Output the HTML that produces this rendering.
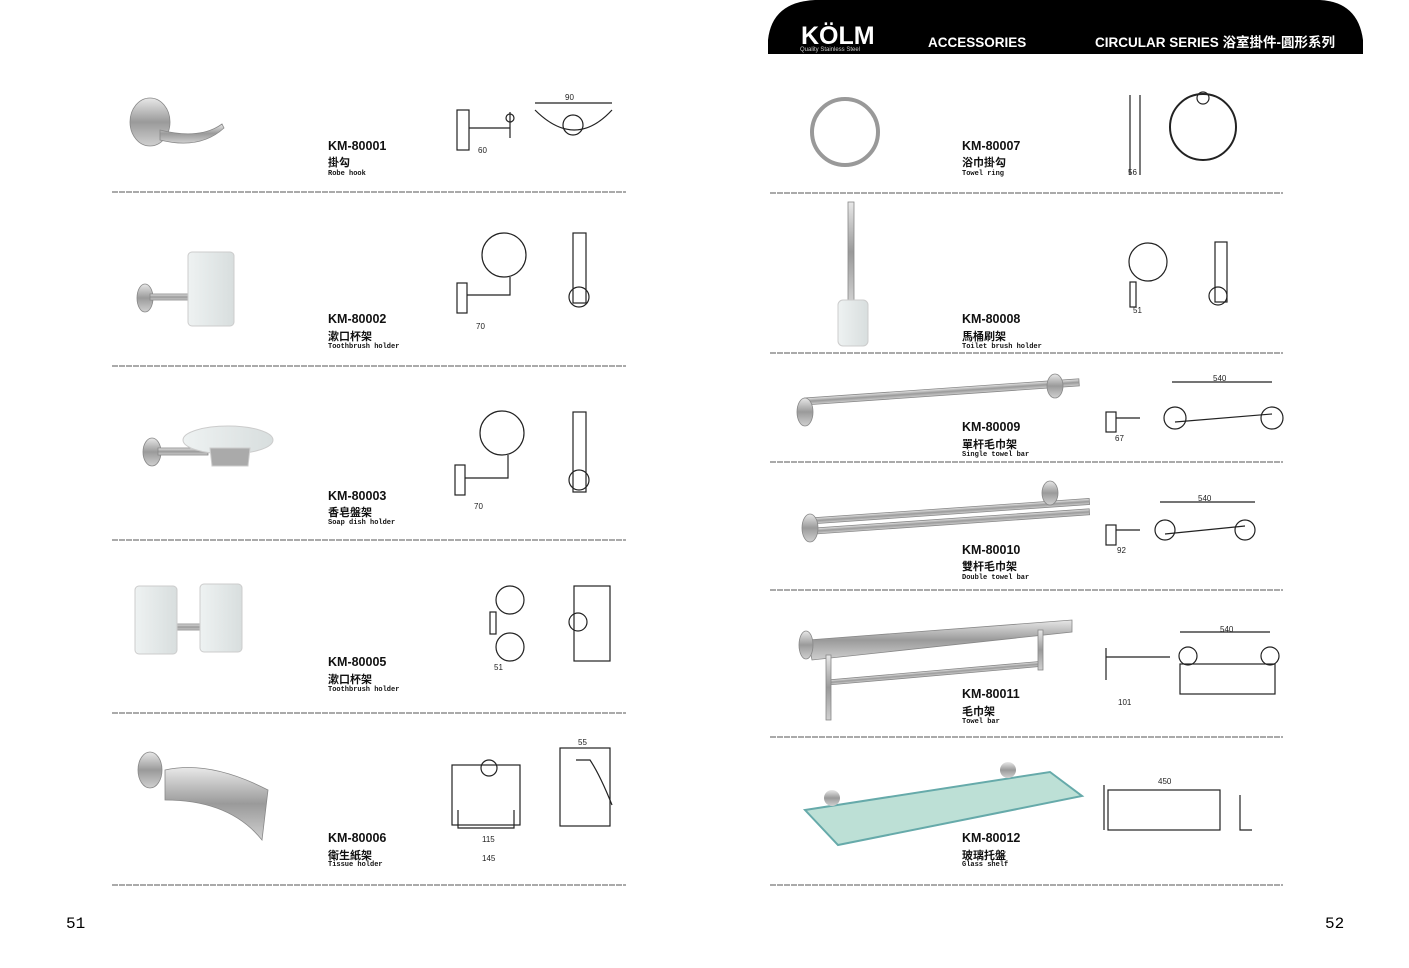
<!DOCTYPE html>
<html><head><meta charset="utf-8"><style>
body{margin:0;background:#fff;width:1409px;height:963px;overflow:hidden}
</style></head><body>
<svg width="1409" height="963" viewBox="0 0 1409 963" xmlns="http://www.w3.org/2000/svg" font-family="Liberation Sans, Noto Sans CJK SC, sans-serif">
<defs>
<linearGradient id="st" x1="0" y1="0" x2="0" y2="1"><stop offset="0" stop-color="#e8e8e8"/><stop offset=".5" stop-color="#9a9a9a"/><stop offset="1" stop-color="#d0d0d0"/></linearGradient>
<linearGradient id="gl" x1="0" y1="0" x2="1" y2="0"><stop offset="0" stop-color="#eef2f2"/><stop offset="1" stop-color="#d8dede"/></linearGradient>
</defs>
<!-- header -->
<path d="M768 54 L768 40 Q772 2 815 0 L1320 0 Q1358 2 1363 40 L1363 54 Z" fill="#000"/>
<text x="801" y="44" fill="#fff" font-size="25" font-weight="bold">KÖLM</text>
<text x="800" y="51" fill="#ccc" font-size="6">Quality Stainless Steel</text>
<text x="928" y="47" fill="#fff" font-size="13.5" font-weight="bold">ACCESSORIES</text>
<text x="1095" y="47" fill="#fff" font-size="13.5" font-weight="bold">CIRCULAR SERIES 浴室掛件-圓形系列</text>

<g stroke="#555" stroke-width="1" stroke-dasharray="6 1">
<line x1="112" y1="192" x2="626" y2="192"/><line x1="112" y1="366" x2="626" y2="366"/><line x1="112" y1="540" x2="626" y2="540"/><line x1="112" y1="713" x2="626" y2="713"/><line x1="112" y1="885" x2="626" y2="885"/>
<line x1="770" y1="193" x2="1283" y2="193"/><line x1="770" y1="353" x2="1283" y2="353"/><line x1="770" y1="462" x2="1283" y2="462"/><line x1="770" y1="590" x2="1283" y2="590"/><line x1="770" y1="737" x2="1283" y2="737"/><line x1="770" y1="885" x2="1283" y2="885"/>
</g>

<g font-weight="bold" fill="#111">
<g font-size="12.5">
<text x="328" y="150">KM-80001</text><text x="328" y="323">KM-80002</text><text x="328" y="500">KM-80003</text><text x="328" y="666">KM-80005</text><text x="328" y="842">KM-80006</text>
<text x="962" y="150">KM-80007</text><text x="962" y="323">KM-80008</text><text x="962" y="431">KM-80009</text><text x="962" y="554">KM-80010</text><text x="962" y="698">KM-80011</text><text x="962" y="842">KM-80012</text>
</g>
<g font-size="11">
<text x="328" y="166">掛勾</text><text x="328" y="340">漱口杯架</text><text x="328" y="516">香皂盤架</text><text x="328" y="683">漱口杯架</text><text x="328" y="859">衛生紙架</text>
<text x="962" y="166">浴巾掛勾</text><text x="962" y="340">馬桶刷架</text><text x="962" y="448">單杆毛巾架</text><text x="962" y="570">雙杆毛巾架</text><text x="962" y="715">毛巾架</text><text x="962" y="859">玻璃托盤</text>
</g>
<g font-size="7" font-family="Liberation Mono, monospace">
<text x="328" y="175">Robe hook</text><text x="328" y="348">Toothbrush holder</text><text x="328" y="524">Soap dish holder</text><text x="328" y="691">Toothbrush holder</text><text x="328" y="866">Tissue holder</text>
<text x="962" y="175">Towel ring</text><text x="962" y="348">Toilet brush holder</text><text x="962" y="456">Single towel bar</text><text x="962" y="579">Double towel bar</text><text x="962" y="723">Towel bar</text><text x="962" y="866">Glass shelf</text>
</g>
</g>
<text x="66" y="928" font-size="16" font-family="Liberation Mono, monospace">51</text>
<text x="1325" y="928" font-size="16" font-family="Liberation Mono, monospace">52</text>

<!-- product photos -->
<g fill="url(#st)" stroke="#888" stroke-width=".8">
<ellipse cx="150" cy="122" rx="20" ry="24"/><path d="M160 130 Q200 140 222 124 L224 128 Q200 150 160 140Z"/>
<ellipse cx="145" cy="298" rx="8" ry="14"/><rect x="150" y="294" width="45" height="6"/>
<ellipse cx="152" cy="452" rx="9" ry="14"/><rect x="158" y="448" width="50" height="7"/>
<rect x="173" y="624" width="30" height="6"/>
<ellipse cx="150" cy="770" rx="12" ry="18"/><path d="M165 770 Q210 760 268 790 L262 840 Q230 800 165 800Z"/>
<circle cx="845" cy="132" rx="0" r="33" fill="none" stroke="#999" stroke-width="4"/>
<rect x="848" y="202" width="6" height="100"/>
<rect x="805" y="398" width="275" height="7" transform="rotate(-4 805 405)"/>
<ellipse cx="805" cy="412" rx="8" ry="14"/><ellipse cx="1055" cy="386" rx="8" ry="12"/>
<rect x="810" y="518" width="280" height="6" transform="rotate(-4 810 520)"/><rect x="815" y="528" width="275" height="6" transform="rotate(-4 815 530)"/>
<ellipse cx="810" cy="528" rx="8" ry="14"/><ellipse cx="1050" cy="493" rx="8" ry="12"/>
<path d="M808 640 L1072 620 L1072 632 L812 660Z"/><rect x="828" y="680" width="215" height="5" transform="rotate(-5 828 685)"/>
<ellipse cx="806" cy="645" rx="7" ry="14"/><rect x="826" y="655" width="5" height="65"/><rect x="1038" y="630" width="5" height="40"/>
</g>
<g fill="url(#gl)" stroke="#ccc">
<rect x="188" y="252" width="46" height="74" rx="4"/>
<ellipse cx="228" cy="440" rx="45" ry="14"/><path d="M210 448 L250 448 L248 466 L212 466Z" fill="#aaa"/>
<rect x="135" y="586" width="42" height="68" rx="4"/><rect x="200" y="584" width="42" height="68" rx="4"/>
<rect x="838" y="300" width="30" height="46" rx="5"/>
</g>
<path d="M805 810 L1050 772 L1082 796 L838 845Z" fill="#bde0d6" stroke="#6aa" stroke-width="2"/>
<circle cx="832" cy="798" r="8" fill="url(#st)"/><circle cx="1008" cy="770" r="8" fill="url(#st)"/>

<!-- technical drawings -->
<g fill="none" stroke="#222" stroke-width="1.2">
<rect x="457" y="110" width="12" height="40"/><path d="M469 128 L510 128 M510 112 L510 138"/><circle cx="510" cy="118" r="4"/>
<path d="M535 103 L612 103 M535 110 Q575 150 612 110"/><circle cx="573" cy="125" r="10"/>
<circle cx="504" cy="255" r="22"/><rect x="457" y="283" width="10" height="30"/><path d="M467 295 L510 295 L510 277"/>
<rect x="573" y="233" width="13" height="70"/><circle cx="579" cy="297" r="10"/>
<circle cx="502" cy="433" r="22"/><rect x="455" y="465" width="10" height="30"/><path d="M465 478 L508 478 L508 455"/>
<rect x="573" y="412" width="13" height="80"/><circle cx="579" cy="480" r="10"/>
<circle cx="510" cy="600" r="14"/><circle cx="510" cy="647" r="14"/><rect x="490" y="612" width="6" height="22"/>
<rect x="574" y="586" width="36" height="75"/><circle cx="578" cy="622" r="9"/>
<rect x="452" y="765" width="68" height="60"/><circle cx="489" cy="768" r="8"/><path d="M458 810 L458 828 L514 828 L514 810"/>
<rect x="560" y="748" width="50" height="78"/><path d="M576 760 L590 760 Q600 775 612 805"/>
<path d="M1130 95 L1130 175 M1140 95 L1140 175"/><circle cx="1203" cy="127" r="33" stroke-width="2"/><circle cx="1203" cy="98" r="6"/>
<circle cx="1148" cy="262" r="19"/><rect x="1130" y="282" width="6" height="25"/><rect x="1215" y="242" width="12" height="60"/><circle cx="1218" cy="296" r="9"/>
<rect x="1106" y="412" width="10" height="20"/><path d="M1116 418 L1140 418"/><circle cx="1175" cy="418" r="11"/><circle cx="1272" cy="418" r="11"/><path d="M1175 422 L1272 414 M1172 382 L1272 382"/>
<rect x="1106" y="525" width="10" height="20"/><path d="M1116 530 L1140 530"/><circle cx="1165" cy="530" r="10"/><circle cx="1245" cy="530" r="10"/><path d="M1165 534 L1245 526 M1160 502 L1255 502"/>
<path d="M1106 648 L1106 680 M1106 657 L1170 657"/><circle cx="1188" cy="656" r="9"/><circle cx="1270" cy="656" r="9"/><rect x="1180" y="664" width="95" height="30"/><path d="M1180 632 L1270 632"/>
<rect x="1108" y="790" width="112" height="40"/><path d="M1104 785 L1104 830 M1240 795 L1240 830 L1252 830"/>
</g>
<g font-size="8" fill="#222">
<text x="478" y="153">60</text><text x="565" y="100">90</text><text x="476" y="329">70</text><text x="474" y="509">70</text><text x="494" y="670">51</text><text x="482" y="842">115</text><text x="482" y="861">145</text><text x="578" y="745">55</text>
<text x="1128" y="175">56</text><text x="1133" y="313">51</text><text x="1115" y="441">67</text><text x="1213" y="381">540</text><text x="1117" y="553">92</text><text x="1198" y="501">540</text><text x="1118" y="705">101</text><text x="1220" y="632">540</text><text x="1158" y="784">450</text>
</g>
</svg>
</body></html>
